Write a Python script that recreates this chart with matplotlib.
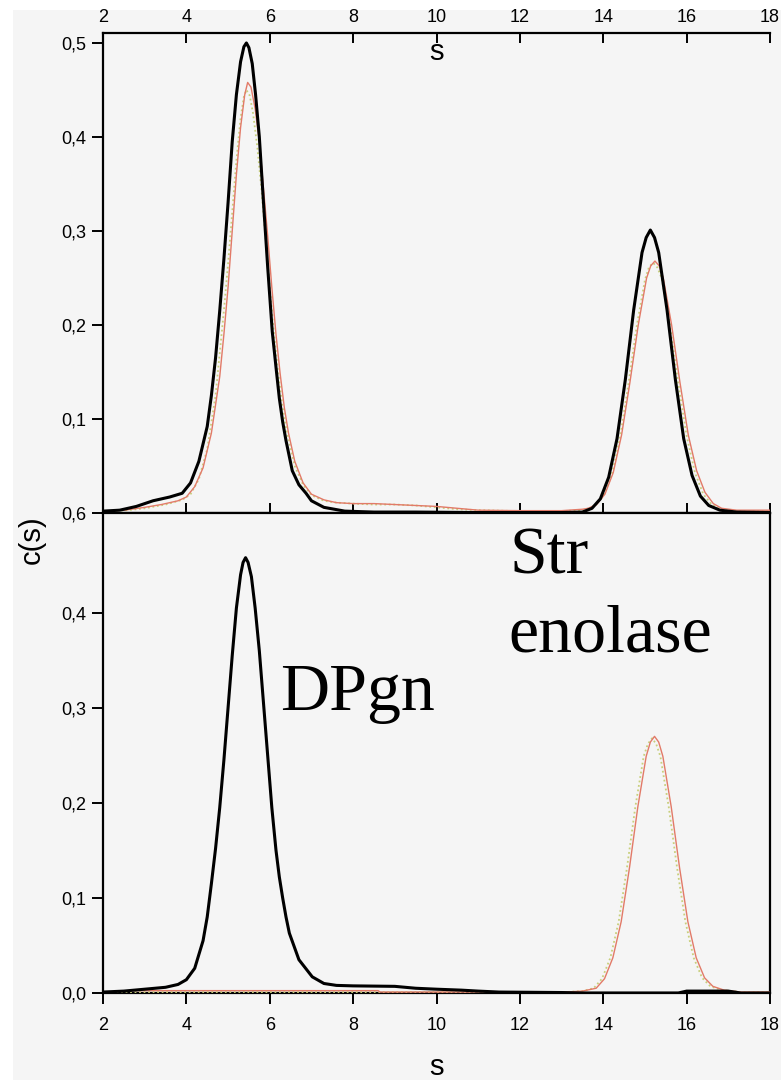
import matplotlib
matplotlib.use("Agg")
import matplotlib.pyplot as plt
from matplotlib.patches import Rectangle

# ---------------- data ----------------
s_ticks = [2, 4, 6, 8, 10, 12, 14, 16, 18]
s_tick_labels = ["2", "4", "6", "8", "10", "12", "14", "16", "18"]
top_y_ticks = [0.0, 0.1, 0.2, 0.3, 0.4, 0.5]
top_y_labels = ["0,6", "0,1", "0,2", "0,3", "0,4", "0,5"]
bot_y_ticks = [0.0, 0.1, 0.2, 0.3, 0.4]
bot_y_labels = ["0,0", "0,1", "0,2", "0,3", "0,4"]

# top panel, black
top_black_s = [2.0, 2.4, 2.8, 3.2, 3.6, 3.9, 4.1, 4.3, 4.5, 4.6, 4.7, 4.8, 4.9, 5.0, 5.1, 5.2,
               5.3, 5.38, 5.44, 5.5, 5.58, 5.66, 5.75, 5.85, 5.95, 6.06, 6.15, 6.23, 6.31, 6.39,
               6.54, 6.7, 6.87, 7.0, 7.3, 7.8, 8.5, 9.5, 11.0, 13.0, 13.5,
               13.73, 13.93, 14.13, 14.33, 14.53, 14.73, 14.93, 15.03, 15.13, 15.23, 15.33, 15.53,
               15.73, 15.93, 16.13, 16.33, 16.53, 16.8, 17.2, 18.0]
top_black_c = [0.002, 0.003, 0.007, 0.013, 0.017, 0.021, 0.032, 0.055, 0.092, 0.125, 0.165, 0.215, 0.270, 0.330, 0.395, 0.445,
               0.480, 0.496, 0.500, 0.495, 0.478, 0.445, 0.400, 0.330, 0.262, 0.193, 0.155, 0.122, 0.097, 0.077,
               0.045, 0.030, 0.021, 0.013, 0.006, 0.002, 0.001, 0.001, 0.0005, 0.0005, 0.001,
               0.005, 0.015, 0.038, 0.079, 0.142, 0.216, 0.277, 0.293, 0.301, 0.293, 0.277, 0.216,
               0.142, 0.079, 0.040, 0.018, 0.008, 0.003, 0.001, 0.0005]

# top panel, red
top_red_s = [2.0, 2.5, 3.0, 3.4, 3.8, 4.0, 4.2, 4.4, 4.6, 4.8, 4.9, 5.0, 5.1, 5.2, 5.3, 5.4,
             5.47, 5.55, 5.65, 5.75, 5.85, 5.95, 6.05, 6.15, 6.25, 6.35, 6.45, 6.6, 6.8, 7.0,
             7.3, 7.6, 8.0, 8.5, 9.0, 9.5, 10.0, 10.5, 11.0, 12.0, 13.0, 13.5,
             13.64, 13.84, 14.04, 14.24, 14.44, 14.64, 14.84, 15.04, 15.14, 15.24, 15.34, 15.44,
             15.64, 15.84, 16.04, 16.24, 16.44, 16.64, 16.84, 17.2, 18.0]
top_red_c = [0.002, 0.003, 0.006, 0.009, 0.013, 0.017, 0.028, 0.048, 0.085, 0.145, 0.190, 0.240, 0.300, 0.360, 0.410, 0.445,
             0.458, 0.453, 0.430, 0.395, 0.345, 0.295, 0.240, 0.190, 0.148, 0.112, 0.085, 0.055, 0.032, 0.020,
             0.014, 0.011, 0.010, 0.010, 0.009, 0.008, 0.007, 0.005, 0.003, 0.0025, 0.0025, 0.004,
             0.005, 0.009, 0.020, 0.043, 0.083, 0.139, 0.200, 0.250, 0.263, 0.268, 0.263, 0.250,
             0.200, 0.139, 0.083, 0.045, 0.022, 0.010, 0.005, 0.003, 0.003]

# top panel, dotted
top_dot_s = [2.0, 2.6, 3.0, 3.5, 3.9, 4.1, 4.3, 4.5, 4.7, 4.9, 5.0, 5.1, 5.2, 5.3, 5.38, 5.44,
             5.52, 5.6, 5.7, 5.8, 5.9, 6.0, 6.1, 6.2, 6.3, 6.4, 6.6, 6.8, 7.0, 7.3, 7.6, 8.0,
             8.5, 9.0, 9.5, 10.0, 10.5, 11.0, 12.0, 13.0,
             13.5, 13.6, 13.8, 14.0, 14.2, 14.4, 14.6, 14.8, 15.0, 15.1, 15.2, 15.3, 15.4, 15.6,
             15.8, 16.0, 16.2, 16.4, 16.6, 16.8, 17.2, 18.0]
top_dot_c = [0.002, 0.003, 0.005, 0.009, 0.014, 0.020, 0.036, 0.068, 0.125, 0.215, 0.265, 0.320, 0.375, 0.420, 0.443, 0.450,
             0.444, 0.425, 0.390, 0.345, 0.292, 0.240, 0.192, 0.150, 0.115, 0.088, 0.050, 0.030, 0.019, 0.013, 0.011, 0.010,
             0.009, 0.009, 0.008, 0.006, 0.004, 0.003, 0.002, 0.002,
             0.003, 0.004, 0.008, 0.018, 0.040, 0.080, 0.136, 0.198, 0.248, 0.262, 0.266, 0.261, 0.250, 0.200,
             0.138, 0.082, 0.043, 0.020, 0.009, 0.004, 0.002, 0.002]

# bottom panel, black
bot_black_s = [2.0, 2.5, 3.0, 3.5, 3.8, 4.0, 4.2, 4.4, 4.5, 4.6, 4.7, 4.8, 4.9, 5.0, 5.1, 5.2,
               5.3, 5.36, 5.42, 5.48, 5.56, 5.65, 5.75, 5.85, 5.95, 6.05, 6.15, 6.23, 6.31, 6.39, 6.47,
               6.7, 7.02, 7.3, 7.6, 8.0, 9.0, 9.5, 10.0, 10.6, 11.0, 11.5, 13.0,
               13.6, 15.8, 16.0, 16.6, 17.0, 17.3, 18.0]
bot_black_c = [0.001, 0.002, 0.004, 0.006, 0.009, 0.014, 0.026, 0.055, 0.080, 0.115, 0.152, 0.195, 0.245, 0.300, 0.355, 0.405,
               0.440, 0.453, 0.458, 0.453, 0.438, 0.405, 0.360, 0.305, 0.250, 0.195, 0.150, 0.122, 0.100, 0.080, 0.063,
               0.035, 0.017, 0.010, 0.008, 0.0075, 0.007, 0.005, 0.004, 0.003, 0.002, 0.001, 0.0005,
               0.0, 0.0, 0.002, 0.002, 0.002, 0.0, 0.0]

# bottom panel, red
bot_red_s = [2.7, 8.6, 8.65, 13.1, 13.5, 13.83, 14.03, 14.23, 14.43, 14.63, 14.83, 15.03, 15.13, 15.23,
             15.33, 15.43, 15.63, 15.83, 16.03, 16.23, 16.43, 16.63, 16.9, 17.3, 18.0]
bot_red_c = [0.0025, 0.0025, 0.001, 0.001, 0.002, 0.005, 0.015, 0.037, 0.075, 0.132, 0.196, 0.249, 0.264, 0.270,
             0.264, 0.249, 0.196, 0.132, 0.075, 0.037, 0.016, 0.007, 0.003, 0.001, 0.001]

# bottom panel, dotted
bot_dot_s = [2.0, 8.6, 13.1, 13.5, 13.77, 13.97, 14.17, 14.37, 14.57, 14.77, 14.97, 15.07, 15.17, 15.27,
             15.37, 15.57, 15.77, 15.97, 16.17, 16.37, 16.57, 16.85, 17.3, 18.0]
bot_dot_c = [0.001, 0.001, 0.001, 0.002, 0.005, 0.015, 0.037, 0.075, 0.132, 0.196, 0.249, 0.262, 0.268, 0.262,
             0.249, 0.196, 0.132, 0.075, 0.037, 0.016, 0.007, 0.003, 0.001, 0.001]

# ---------------- styling ----------------
BG = "#f5f5f5"
BLACK = "#000000"
RED = "#e27a68"
DOT = "#c8cf7c"
W, H = 781, 1080
TICK_FS = 13

plt.rcParams["font.family"] = ["Liberation Sans", "DejaVu Sans"]

fig = plt.figure(figsize=(W / 100, H / 100), dpi=100, facecolor=BG)
fig.add_artist(Rectangle((0, 1 - 10 / H), 1, 10 / H, transform=fig.transFigure,
                         facecolor="white", edgecolor="none", zorder=-5))
fig.add_artist(Rectangle((0, 0), 13 / W, 1, transform=fig.transFigure,
                         facecolor="white", edgecolor="none", zorder=-5))

left = 103 / W
width = (770 - 103) / W
ax1 = fig.add_axes([left, 1 - 513 / H, width, (513 - 33) / H])
ax2 = fig.add_axes([left, 1 - 993 / H, width, (993 - 513) / H])

for ax in (ax1, ax2):
    ax.set_facecolor(BG)
    ax.set_xlim(2, 18)
    for sp in ax.spines.values():
        sp.set_linewidth(1.6)

# top panel
ax1.plot(top_dot_s, top_dot_c, color=DOT, lw=1.3, ls=(0, (1, 1.5)), zorder=3)
ax1.plot(top_red_s, top_red_c, color=RED, lw=1.0, zorder=4)
ax1.plot(top_black_s, top_black_c, color=BLACK, lw=2.2, zorder=5)
ax1.set_ylim(0, 0.5106)
ax1.spines["right"].set_visible(False)
ax1.set_xticks(s_ticks)
ax1.set_xticklabels(s_tick_labels)
ax1.tick_params(axis="x", which="both", top=True, bottom=True, labeltop=True, labelbottom=False,
                direction="in", length=7, width=1.4, labelsize=TICK_FS, pad=5)
ax1.set_yticks(top_y_ticks)
ax1.set_yticklabels(top_y_labels)
ax1.tick_params(axis="y", direction="out", length=8, width=1.4, labelsize=TICK_FS, pad=4)
ax1.text(0.5, 0.99, "s", transform=ax1.transAxes, ha="center", va="top", fontsize=21)

# bottom panel
ax2.plot(bot_dot_s, bot_dot_c, color=DOT, lw=1.3, ls=(0, (1, 1.5)), zorder=3)
ax2.plot(bot_red_s, bot_red_c, color=RED, lw=1.0, zorder=4)
ax2.plot(bot_black_s, bot_black_c, color=BLACK, lw=2.2, zorder=5)
ax2.set_ylim(0, 0.505)
ax2.set_xticks(s_ticks)
ax2.set_xticklabels(s_tick_labels)
ax2.tick_params(axis="x", direction="out", length=8, width=1.4, labelsize=TICK_FS, pad=9)
ax2.set_yticks(bot_y_ticks)
ax2.set_yticklabels(bot_y_labels)
ax2.tick_params(axis="y", direction="out", length=8, width=1.4, labelsize=TICK_FS, pad=4)
ax2.set_xlabel("s", fontsize=21, labelpad=14)

fig.text(32 / W, 1 - 540 / H, "c(s)", rotation=90, ha="center", va="center", fontsize=21)

serif = ["Liberation Serif", "DejaVu Serif"]
fig.text(280 / W, 1 - 710 / H, "DPgn", family=serif, fontsize=49, ha="left", va="baseline")
fig.text(509 / W, 1 - 573 / H, "Str", family=serif, fontsize=49, ha="left", va="baseline")
fig.text(508 / W, 1 - 652 / H, "enolase", family=serif, fontsize=49, ha="left", va="baseline")

fig.savefig("out.png", dpi=100, facecolor=BG)
